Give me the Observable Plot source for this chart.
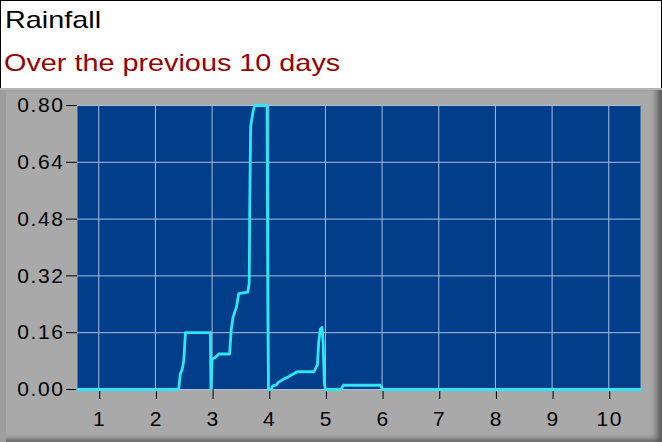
<!DOCTYPE html>
<html>
<head>
<meta charset="utf-8">
<script src="https://cdn.jsdelivr.net/npm/d3@7"></script>
<script src="https://cdn.jsdelivr.net/npm/@observablehq/plot@0.6"></script>
<style>
  html, body { margin: 0; padding: 0; background: #fff; }
  #wrap { position: relative; width: 662px; height: 442px; overflow: hidden; background: #fff; font-family: "Liberation Sans", Arial, sans-serif; }
  #hdr { position: absolute; left: 0; top: 0; width: 660px; height: 88px; border: 1px solid #000; border-bottom: none; box-sizing: content-box; }
  .ttl { position: absolute; left: 5px; font-size: 24px; line-height: 24px; white-space: nowrap; transform: scaleX(1.2); transform-origin: 0 0; }
  #title { top: 8px; color: #000; }
  #subtitle { top: 51px; left: 4px; color: #990000; }
  #panel { position: absolute; left: 0; top: 88px; width: 662px; height: 354px; background: #a9a9a9;
    box-shadow: inset 0 2px 0 #b4b4b4, inset 6px 0 0 #9d9d9d, inset -7px 0 6px -2px #5a5a5a, inset 0 -5px 5px -2px #6a6a6a; }
  #panel svg { position: absolute; left: 0; top: 0; }
</style>
</head>
<body>
<div id="wrap">
  <div id="hdr"></div>
  <div id="title" class="ttl">Rainfall</div>
  <div id="subtitle" class="ttl">Over the previous 10 days</div>
  <div id="panel"></div>
</div>
<script>
// Day (x) and rainfall (y)
const days = [0.625, 2.41, 2.43, 2.44, 2.47, 2.50, 2.53, 2.97, 2.98, 3.00, 3.06, 3.12, 3.31, 3.336, 3.37, 3.43, 3.47, 3.63, 3.655, 3.665, 3.68, 3.72, 3.75, 3.97, 3.975, 3.985, 3.995, 4.04, 4.07, 4.13, 4.17, 4.22, 4.27, 4.34, 4.39, 4.45, 4.50, 4.80, 4.83, 4.86, 4.88, 4.91, 4.94, 4.96, 4.98, 5.00, 5.27, 5.32, 5.97, 6.01, 10.56];
const rainfall = [0, 0, 0.03, 0.045, 0.055, 0.08, 0.16, 0.16, 0, 0.085, 0.091, 0.10, 0.10, 0.166, 0.204, 0.232, 0.27, 0.274, 0.30, 0.52, 0.74, 0.78, 0.80, 0.80, 0.60, 0.19, 0, 0, 0.01, 0.012, 0.02, 0.025, 0.03, 0.035, 0.04, 0.045, 0.05, 0.05, 0.06, 0.07, 0.13, 0.17, 0.175, 0.13, 0.02, 0, 0, 0.012, 0.012, 0, 0];
const xTicks = [1, 2, 3, 4, 5, 6, 7, 8, 9, 10];
const yTicks = [0, 0.16, 0.32, 0.48, 0.64, 0.80];
const xDomain = [0.625, 10.56];
const yDomain = [0, 0.8];

const data = days.map((d, i) => ({day: d, rain: rainfall[i]}));

const chart = Plot.plot({
  width: 662,
  height: 354,
  marginLeft: 77,
  marginRight: 22,
  marginTop: 17,
  marginBottom: 53,
  style: {background: "transparent", fontFamily: "'Liberation Sans', Arial, sans-serif", fontSize: "21px", color: "#000", letterSpacing: "1.6px", overflow: "visible"},
  x: {domain: xDomain},
  y: {domain: yDomain},
  marks: [
    Plot.frame({fill: "#033e8b", stroke: null}),
    Plot.gridX(xTicks, {stroke: "#a7bfe0", strokeOpacity: 1, strokeWidth: 1}),
    Plot.gridY(yTicks, {stroke: "#a7bfe0", strokeOpacity: 1, strokeWidth: 1}),
    Plot.axisX(xTicks, {tickSize: 10, tickPadding: 12, stroke: "#000", fill: "#000", label: null, dx: 1, tickFormat: d => String(d)}),
    Plot.axisY(yTicks, {tickSize: 11, tickPadding: 2, stroke: "#000", fill: "#000", label: null, tickFormat: d3.format(".2f")}),
    Plot.line(data, {x: "day", y: "rain", stroke: "#2fe6f8", strokeWidth: 2.8, curve: "linear"})
  ]
});
document.getElementById("panel").appendChild(chart);
</script>
</body>
</html>
